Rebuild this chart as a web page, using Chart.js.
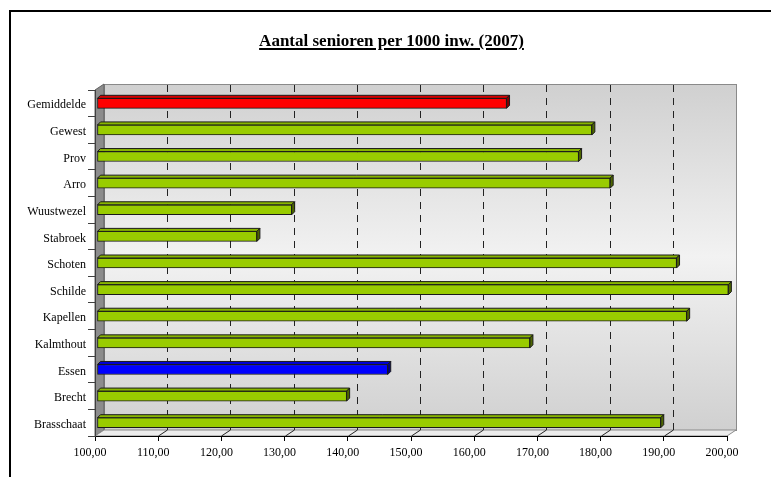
<!DOCTYPE html>
<html>
<head>
<meta charset="utf-8">
<script src="https://cdn.jsdelivr.net/npm/chart.js@4/dist/chart.umd.min.js"></script>
<style>
    body { margin: 0; background: #fff; }
    #wrap { position: relative; width: 771px; height: 477px; overflow: hidden; }
    #frame { position: absolute; left: 9px; top: 10px; right: -10px; bottom: -10px;
             border-left: 2px solid #000; border-top: 2px solid #000; }
    #title { position: absolute; left: 0; width: 783px; top: 31px; text-align: center;
             font: bold 17px 'Liberation Serif', serif; line-height: 20px;
             text-decoration: underline; text-decoration-thickness: 2px; text-underline-offset: 2px; }
    canvas { position: absolute; left: 0; top: 0; }
</style>
</head>
<body>
<div id="wrap">
    <div id="frame"></div>
    <canvas id="seniorChart" width="771" height="477"></canvas>
    <div id="title">Aantal senioren per 1000 inw. (2007)</div>
</div>
<script>
// ===== DATA =====
const categories = ['Gemiddelde', 'Gewest', 'Prov', 'Arro', 'Wuustwezel', 'Stabroek', 'Schoten',
                    'Schilde', 'Kapellen', 'Kalmthout', 'Essen', 'Brecht', 'Brasschaat'];
const seniorsPer1000 = [164.8, 178.3, 176.2, 181.2, 130.8, 125.3, 191.7,
                        199.9, 193.3, 168.5, 146.0, 139.5, 189.2];
const xTickValues = [100, 110, 120, 130, 140, 150, 160, 170, 180, 190, 200];

// depth of the walls and of the bars (pseudo 3D)
const WALL_DX = 9, WALL_DY = -6;
const BAR_SHIFT = 2, BAR_FACE = 3;

function barColors(label) {
    if (label === 'Gemiddelde') return { front: '#ff0000', top: '#d80000', side: '#800000' };
    if (label === 'Essen') return { front: '#0000ff', top: '#0000d8', side: '#000080' };
    return { front: '#99cc00', top: '#88b500', side: '#4d6600' };
}

function poly(ctx, pts, fill, stroke) {
    ctx.beginPath();
    ctx.moveTo(pts[0][0], pts[0][1]);
    pts.slice(1).forEach(p => ctx.lineTo(p[0], p[1]));
    ctx.closePath();
    ctx.fillStyle = fill;
    ctx.fill();
    if (stroke) {
        ctx.strokeStyle = stroke;
        ctx.stroke();
    }
}

const box3d = {
    id: 'box3d',
    beforeDraw(chart) {
        const { ctx, chartArea: a, scales: { x } } = chart;
        ctx.save();
        ctx.lineWidth = 1;

        // back wall
        const g = ctx.createLinearGradient(0, a.top + WALL_DY, 0, a.bottom + WALL_DY);
        g.addColorStop(0, '#d0d0d0');
        g.addColorStop(0.5, '#f2f2f2');
        g.addColorStop(1, '#d0d0d0');
        ctx.fillStyle = g;
        ctx.fillRect(a.left + WALL_DX, a.top + WALL_DY, a.right - a.left, a.bottom - a.top);
        ctx.strokeStyle = '#8a8a8a';
        ctx.strokeRect(a.left + WALL_DX + 0.5, a.top + WALL_DY + 0.5, a.right - a.left, a.bottom - a.top);

        // side wall
        poly(ctx, [[a.left, a.top], [a.left + WALL_DX, a.top + WALL_DY],
                   [a.left + WALL_DX, a.bottom + WALL_DY], [a.left, a.bottom]], '#8c8c8c', '#606060');

        // floor
        poly(ctx, [[a.left, a.bottom], [a.left + WALL_DX, a.bottom + WALL_DY],
                   [a.right + WALL_DX, a.bottom + WALL_DY], [a.right, a.bottom]], '#ececec', '#8a8a8a');

        // dashed grid on the back wall + floor lines
        xTickValues.forEach(v => {
            if (v === x.min || v === x.max) return;
            const px = Math.round(x.getPixelForValue(v)) + 0.5;
            ctx.strokeStyle = '#222';
            ctx.setLineDash([7, 6]);
            ctx.beginPath();
            ctx.moveTo(px + WALL_DX, a.top + WALL_DY + 1);
            ctx.lineTo(px + WALL_DX, a.bottom + WALL_DY);
            ctx.stroke();
            ctx.setLineDash([]);
            ctx.beginPath();
            ctx.moveTo(px, a.bottom);
            ctx.lineTo(px + WALL_DX, a.bottom + WALL_DY);
            ctx.stroke();
        });
        ctx.restore();
    },
    beforeDatasetsDraw(chart) {
        chart.ctx.save();
        chart.ctx.translate(BAR_SHIFT, 0);
    },
    afterDatasetsDraw(chart) {
        const ctx = chart.ctx;
        ctx.lineWidth = 1;
        chart.getDatasetMeta(0).data.forEach((bar, i) => {
            const c = barColors(categories[i]);
            const h = bar.height / 2;
            const x0 = bar.base, x1 = bar.x, y0 = bar.y - h, y1 = bar.y + h;
            const d = BAR_FACE;
            poly(ctx, [[x0, y0], [x0 + d, y0 - d], [x1 + d, y0 - d], [x1, y0]], c.top, '#1a1a1a');
            poly(ctx, [[x1, y0], [x1 + d, y0 - d], [x1 + d, y1 - d], [x1, y1]], c.side, '#1a1a1a');
        });
        ctx.restore();
    }
};

const serif = { family: "'Liberation Serif', serif", size: 12 };

new Chart(document.getElementById('seniorChart'), {
    type: 'bar',
    data: {
        labels: categories,
        datasets: [{
            data: seniorsPer1000,
            base: 100,
            backgroundColor: ctx => barColors(categories[ctx.dataIndex]).front,
            borderColor: '#1a1a1a',
            borderWidth: 1,
            borderSkipped: false,
            barThickness: 10,
            clip: false
        }]
    },
    options: {
        indexAxis: 'y',
        responsive: false,
        animation: false,
        devicePixelRatio: 1,
        layout: { padding: { left: 0, top: 90, right: 44, bottom: 11 } },
        plugins: {
            legend: { display: false },
            tooltip: { enabled: false },
            title: { display: false }
        },
        scales: {
            x: {
                min: 100,
                max: 200,
                afterBuildTicks(scale) {
                    scale.ticks = xTickValues.map(v => ({ value: v }));
                },
                afterFit(scale) { scale.height = 30; },
                grid: { drawOnChartArea: false, drawTicks: true, tickLength: 5, color: '#000' },
                border: { display: true, color: '#000' },
                ticks: {
                    color: '#000',
                    font: serif,
                    padding: 5,
                    labelOffset: -5,
                    maxRotation: 0,
                    autoSkip: false,
                    callback: v => Number(v).toFixed(2).replace('.', ',')
                }
            },
            y: {
                afterFit(scale) { scale.width = 95; },
                grid: { drawOnChartArea: false, drawTicks: true, tickLength: 7, color: '#404040', offset: true },
                border: { display: true, color: '#404040' },
                ticks: { color: '#000', font: serif, padding: 2, labelOffset: 2, autoSkip: false }
            }
        }
    },
    plugins: [box3d]
});
</script>
</body>
</html>
